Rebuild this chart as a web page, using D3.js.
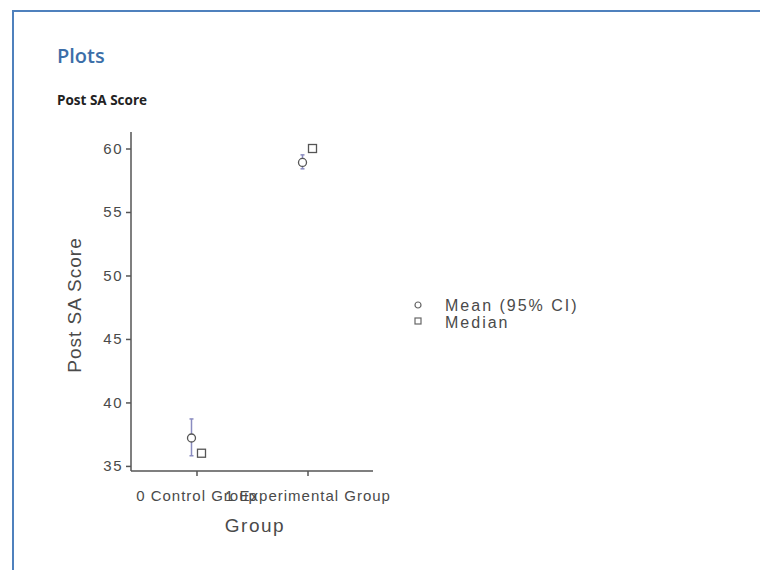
<!DOCTYPE html>
<html>
<head>
<meta charset="utf-8">
<script src="https://cdn.jsdelivr.net/npm/d3@7"></script>
<style>
  body { margin: 0; background: #fff; }
  svg { display: block; }
</style>
</head>
<body>
<div id="chart"></div>
<script>
// data
var groups = ["0 Control Group", "1 Experimental Group"];
var means = [37.2, 58.9];
var ciLow = [35.8, 58.4];
var ciHigh = [38.7, 59.5];
var medians = [36, 60];
var yTicks = [35, 40, 45, 50, 55, 60];

var W = 760, H = 570;
var svg = d3.select("#chart").append("svg")
  .attr("width", W).attr("height", H);

// page frame
svg.append("line").attr("x1", 12).attr("x2", W).attr("y1", 11).attr("y2", 11)
  .attr("stroke", "#4f81bd").attr("stroke-width", 2);
svg.append("line").attr("x1", 13).attr("x2", 13).attr("y1", 10).attr("y2", H)
  .attr("stroke", "#4f81bd").attr("stroke-width", 2);

svg.append("text").attr("x", 57).attr("y", 63)
  .style("font-family", "Open Sans, sans-serif").style("font-weight", 600)
  .style("font-size", "20px").style("fill", "#3c6ea8").text("Plots");
svg.append("text").attr("x", 57).attr("y", 105)
  .style("font-family", "Open Sans, sans-serif").style("font-weight", 700)
  .style("font-size", "13.5px").style("fill", "#222").text("Post SA Score");

var pLeft = 131, pRight = 373, pTop = 132, pBottom = 471;

var x = d3.scalePoint().domain(groups).range([pLeft, pRight]).padding(0.59);
var y = d3.scaleLinear().domain([34.6, 61.3]).range([pBottom, pTop]);

var font = "Liberation Sans, Arial, sans-serif";
var axisCol = "#555";
var textCol = "#4a4a4a";

var gy = svg.append("g").attr("transform", "translate(" + pLeft + ",0)")
  .call(d3.axisLeft(y).tickValues(yTicks).tickSize(5).tickPadding(3));
var gx = svg.append("g").attr("transform", "translate(0," + pBottom + ")")
  .call(d3.axisBottom(x).tickSize(5).tickPadding(14));

[gx, gy].forEach(function (g) {
  g.select(".domain").attr("stroke", axisCol).attr("stroke-width", 1.5);
  g.selectAll(".tick line").attr("stroke", axisCol).attr("stroke-width", 1.5);
  g.selectAll("text").style("font-family", font).style("fill", textCol);
});
gy.selectAll("text").style("font-size", "15px").style("letter-spacing", "1.5px");
gx.selectAll("text").style("font-size", "15px").style("letter-spacing", "1px");
gx.select(".domain").attr("d", "M" + pLeft + ",0H" + pRight);
gy.select(".domain").attr("d", "M0," + pTop + "V" + pBottom);

svg.append("text").attr("x", (pLeft + pRight) / 2 + 3).attr("y", 532)
  .attr("text-anchor", "middle")
  .style("font-family", font).style("font-size", "19px").style("letter-spacing", "1.5px")
  .style("fill", textCol).text("Group");
svg.append("text").attr("transform", "translate(81,305) rotate(-90)")
  .attr("text-anchor", "middle")
  .style("font-family", font).style("font-size", "19px").style("letter-spacing", "1px")
  .style("fill", textCol).text("Post SA Score");

var dodge = 5;
var ebCol = "#8a8cc0";

groups.forEach(function (g, i) {
  var cx = x(g) - dodge;
  svg.append("line").attr("x1", cx).attr("x2", cx)
    .attr("y1", y(ciLow[i])).attr("y2", y(ciHigh[i]))
    .attr("stroke", ebCol).attr("stroke-width", 1.5);
  [ciLow[i], ciHigh[i]].forEach(function (v) {
    svg.append("line").attr("x1", cx - 2).attr("x2", cx + 2)
      .attr("y1", y(v)).attr("y2", y(v))
      .attr("stroke", ebCol).attr("stroke-width", 1.5);
  });
  svg.append("circle").attr("cx", cx).attr("cy", y(means[i])).attr("r", 4)
    .attr("fill", "#fff").attr("stroke", "#555").attr("stroke-width", 1.3);
  var sx = x(g) + dodge;
  svg.append("rect").attr("x", sx - 4).attr("y", y(medians[i]) - 4)
    .attr("width", 8).attr("height", 8)
    .attr("fill", "#fff").attr("stroke", "#555").attr("stroke-width", 1.3);
});

// legend
var lg = svg.append("g").attr("transform", "translate(418,305)");
lg.append("circle").attr("cx", 0).attr("cy", 0).attr("r", 3)
  .attr("fill", "#fff").attr("stroke", "#666").attr("stroke-width", 1.2);
lg.append("rect").attr("x", -3).attr("y", 13).attr("width", 6).attr("height", 6)
  .attr("fill", "#fff").attr("stroke", "#666").attr("stroke-width", 1.2);
lg.append("text").attr("x", 27).attr("y", 0).attr("dy", "0.35em")
  .style("font-family", font).style("font-size", "16px").style("letter-spacing", "2px")
  .style("fill", textCol).text("Mean (95% CI)");
lg.append("text").attr("x", 27).attr("y", 17).attr("dy", "0.35em")
  .style("font-family", font).style("font-size", "16px").style("letter-spacing", "2px")
  .style("fill", textCol).text("Median");
</script>
</body>
</html>
